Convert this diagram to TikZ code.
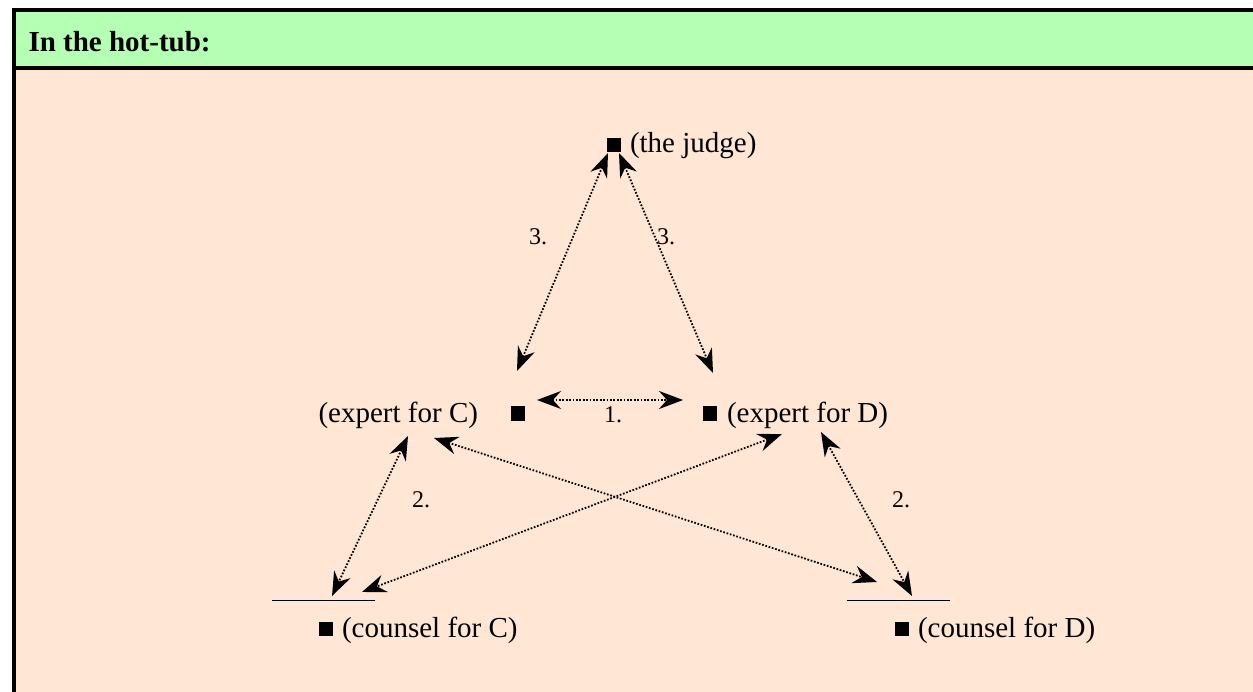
\documentclass[tikz,border=0pt]{standalone}
\usepackage{fontspec}
\setmainfont{Liberation Serif}
\usetikzlibrary{arrows.meta}
\definecolor{headgreen}{RGB}{180,255,180}
\definecolor{peach}{RGB}{255,230,213}
\begin{document}
\begin{tikzpicture}[x=1pt,y=-1pt,
  every node/.style={inner sep=0pt,outer sep=0pt},
  lbl/.style={font=\fontsize{29}{34}\selectfont, anchor=base west},
  num/.style={font=\fontsize{24}{28}\selectfont, anchor=base west},
  sq/.style={fill=black, minimum size=14pt, inner sep=0pt},
  tip/.tip={Stealth[length=24pt,width=18pt,inset=8pt]},
  link/.style={line width=1.8pt, dash pattern=on 1.7pt off 1.7pt, tip-tip},
  bar/.style={line width=1pt}]
\useasboundingbox (0,0) rectangle (1253,692);
\fill[white] (0,0) rectangle (1253,692);
\fill[peach] (14,68) rectangle (1253,692);
\fill[headgreen] (14,10) rectangle (1253,68);
\draw[line width=4pt, line join=miter] (14,692) -- (14,10) -- (1253,10);
\draw[line width=4pt] (14,68) -- (1253,68);
\node[lbl, font=\fontsize{29}{34}\selectfont\bfseries] (title) at (28.5,52) {In the hot-tub:};
% squares
\node[sq] (judge) at (613.7,144.7) {};
\node[sq] (expC) at (517.5,413.5) {};
\node[sq] (expD) at (710,413.5) {};
\node[sq] (cnsC) at (325.5,629) {};
\node[sq] (cnsD) at (902,629) {};
% labels
\node[lbl] (judgeT) at (630,153) {(the judge)};
\node[lbl, anchor=base east] (expCT) at (478,422) {(expert for C)};
\node[lbl] (expDT) at (727,422) {(expert for D)};
\node[lbl] (cnsCT) at (342,637.5) {(counsel for C)};
\node[lbl] (cnsDT) at (918,637.5) {(counsel for D)};
% counsel bars
\coordinate (cCL) at (272,600); \coordinate (cCR) at (375,600);
\coordinate (cDL) at (847,600); \coordinate (cDR) at (950,600);
\draw[bar] (cCL) -- (cCR);
\draw[bar] (cDL) -- (cDR);
% arrow ends
\coordinate (j1) at (608,153); \coordinate (e1) at (517,371);
\coordinate (j2) at (619,153); \coordinate (e2) at (713,373);
\coordinate (m1) at (537,400); \coordinate (m2) at (683,400);
\coordinate (c1) at (408,436); \coordinate (k1) at (332,596);
\coordinate (c2) at (434,438); \coordinate (k2) at (877,582);
\coordinate (d1) at (782,434); \coordinate (k3) at (362,592);
\coordinate (d2) at (821,432); \coordinate (k4) at (912,596);
\draw[link] (j1) -- (e1);
\draw[link] (j2) -- (e2);
\draw[link] (m1) -- (m2);
\draw[link] (c1) -- (k1);
\draw[link] (c2) -- (k2);
\draw[link] (d1) -- (k3);
\draw[link] (d2) -- (k4);
% numbers
\node[num] (n3a) at (529,245) {3.};
\node[num] (n3b) at (657,245) {3.};
\node[num] (n1) at (604,423) {1.};
\node[num] (n2a) at (412,507) {2.};
\node[num] (n2b) at (892,507) {2.};
\end{tikzpicture}
\end{document}
